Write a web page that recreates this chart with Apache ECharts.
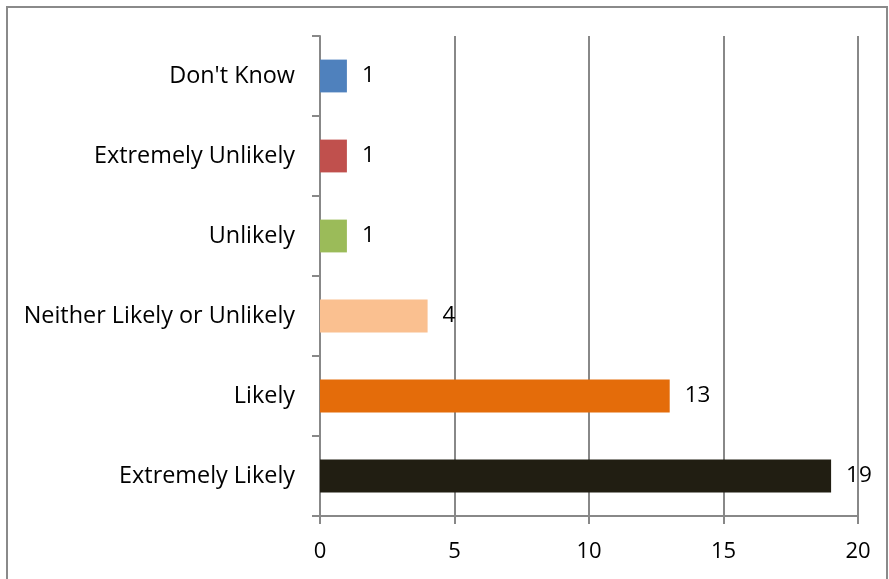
<!DOCTYPE html>
<html>
<head>
<meta charset="utf-8">
<script src="https://cdn.jsdelivr.net/npm/echarts@6/dist/echarts.min.js"></script>
<style>
  html, body { margin: 0; padding: 0; background: #fff; }
  #chart { width: 889px; height: 579px; }
</style>
</head>
<body>
<div id="chart"></div>
<script>
// Survey responses, listed bottom to top as drawn on the category axis
const categories = ['Extremely Likely', 'Likely', 'Neither Likely or Unlikely', 'Unlikely', 'Extremely Unlikely', "Don't Know"];
const counts = [19, 13, 4, 1, 1, 1];
const barColors = ['#211E12', '#E46C0A', '#FAC090', '#9BBB59', '#C0504D', '#4F81BD'];
const xTicks = [0, 5, 10, 15, 20];

const FONT = 'Open Sans, Liberation Sans, sans-serif';
const GRID_GRAY = '#888888';

const chart = echarts.init(document.getElementById('chart'), null, { renderer: 'canvas' });
chart.setOption({
  animation: false,
  backgroundColor: '#ffffff',
  graphic: [{
    type: 'rect',
    shape: { x: 7, y: 7, width: 880, height: 620 },
    style: { fill: 'none', stroke: '#8a8a8a', lineWidth: 2 },
    silent: true
  }],
  grid: { left: 320, right: 31, top: 36, bottom: 63, containLabel: false },
  xAxis: {
    type: 'value',
    min: xTicks[0],
    max: xTicks[xTicks.length - 1],
    interval: 5,
    axisLine: { show: true, lineStyle: { color: GRID_GRAY, width: 2 } },
    axisTick: { show: true, length: 8, lineStyle: { color: GRID_GRAY, width: 2 } },
    splitLine: { show: true, lineStyle: { color: GRID_GRAY, width: 2 } },
    axisLabel: { color: '#000', fontSize: 22, fontFamily: FONT, margin: 25 }
  },
  yAxis: {
    type: 'category',
    data: categories,
    axisLine: { show: true, lineStyle: { color: GRID_GRAY, width: 2 } },
    axisTick: { show: true, length: 8, lineStyle: { color: GRID_GRAY, width: 2 } },
    axisLabel: { color: '#000', fontSize: 23.4, fontFamily: FONT, margin: 25 }
  },
  series: [{
    type: 'bar',
    barWidth: '41%',
    data: counts.map((v, i) => ({ value: v, itemStyle: { color: barColors[i] } })),
    label: {
      show: true,
      position: 'right',
      distance: 15,
      color: '#000',
      fontSize: 22.5,
      fontFamily: FONT
    }
  }]
});
</script>
</body>
</html>
